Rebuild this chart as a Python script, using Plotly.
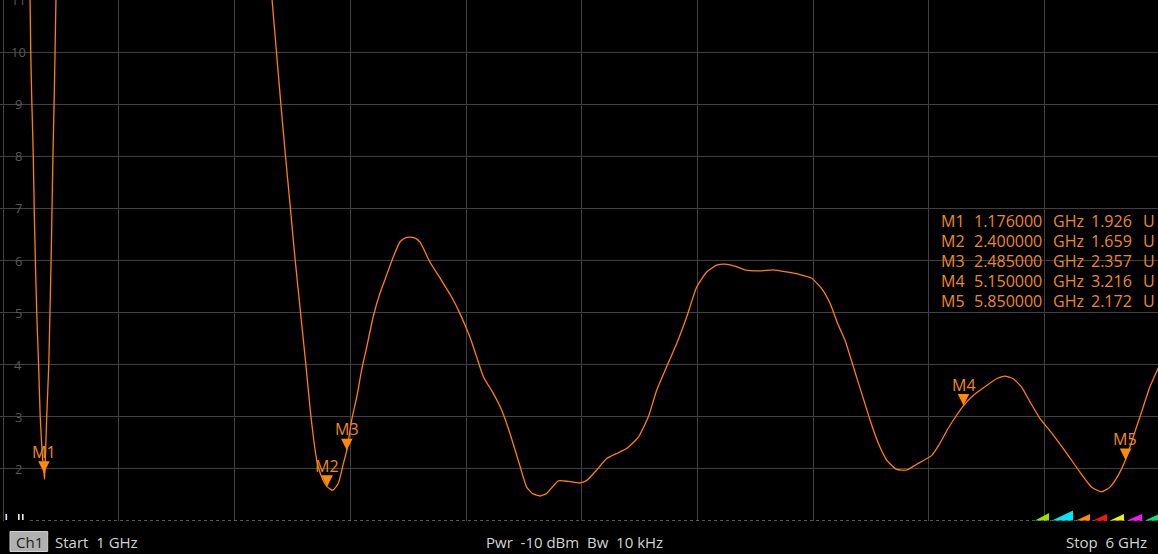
import plotly.graph_objects as go

# ---------------- data ----------------
freq_ghz = [
    1.100, 1.116, 1.119, 1.124, 1.130, 1.134, 1.139, 1.145, 1.153, 1.160, 1.166, 1.171,
    1.176, 1.179, 1.183, 1.188, 1.197, 1.202, 1.207, 1.211, 1.215, 1.220, 1.224, 1.228,
    1.232, 1.236, 1.500, 2.000, 2.124, 2.143,
    2.162, 2.181, 2.200, 2.220, 2.238, 2.262, 2.285, 2.308, 2.330, 2.355, 2.376,
    2.400, 2.424, 2.448, 2.470, 2.485, 2.506, 2.528, 2.549, 2.571, 2.599, 2.628, 2.657,
    2.686, 2.715, 2.740, 2.758, 2.780, 2.800, 2.815, 2.844, 2.888, 2.938, 2.974, 3.017,
    3.046, 3.075, 3.118, 3.154, 3.190, 3.233, 3.262, 3.290, 3.320, 3.349, 3.399, 3.442,
    3.493, 3.522, 3.565, 3.608, 3.658, 3.694, 3.745, 3.788, 3.824, 3.867, 3.911, 3.954,
    3.997, 4.040, 4.083, 4.119, 4.162, 4.205, 4.270, 4.328, 4.386, 4.443, 4.494, 4.537,
    4.573, 4.609, 4.638, 4.674, 4.710, 4.746, 4.782, 4.818, 4.861, 4.905, 4.948, 5.013,
    5.048, 5.084, 5.120, 5.150, 5.192, 5.250, 5.293, 5.329, 5.365, 5.401, 5.437, 5.480,
    5.538, 5.596, 5.653, 5.704, 5.747, 5.783, 5.819, 5.850, 5.884, 5.920, 5.956, 5.991,
    6.000,
]
value_u = [
    13.0, 11.0, 10.0, 9.0, 8.0, 7.0, 6.0, 5.0, 4.0, 3.0, 2.5, 2.15,
    1.926, 1.80, 2.3, 3.0, 4.0, 5.0, 6.0, 7.0, 8.0, 9.0, 10.0, 11.0,
    12.0, 13.0, 20.0, 20.0, 13.0, 12.0,
    11.0, 10.0, 9.0, 8.0, 7.15, 6.0, 5.0, 4.0, 3.0, 2.17, 1.85,
    1.659, 1.59, 1.72, 2.10, 2.357, 2.94, 3.38, 3.90, 4.34, 4.92, 5.37, 5.72,
    6.07, 6.36, 6.44, 6.45, 6.43, 6.36, 6.24, 5.97, 5.66, 5.30, 4.98, 4.53,
    4.15, 3.77, 3.45, 3.13, 2.68, 2.06, 1.65, 1.52, 1.48, 1.53, 1.77, 1.76,
    1.73, 1.78, 1.98, 2.20, 2.31, 2.39, 2.61, 3.00, 3.51, 3.96, 4.41, 4.92,
    5.49, 5.78, 5.91, 5.93, 5.89, 5.82, 5.80, 5.82, 5.78, 5.73, 5.66, 5.46,
    5.18, 4.76, 4.47, 3.96, 3.45, 2.94, 2.49, 2.17, 1.99, 1.98, 2.09, 2.26,
    2.49, 2.78, 3.03, 3.216, 3.41, 3.60, 3.73, 3.78, 3.73, 3.57, 3.29, 2.97,
    2.65, 2.30, 1.94, 1.65, 1.56, 1.65, 1.88, 2.172, 2.62, 3.10, 3.58, 3.93,
    4.02,
]

marker_names = ["M1", "M2", "M3", "M4", "M5"]
marker_freq = [1.176, 2.400, 2.485, 5.150, 5.850]
marker_val = [1.926, 1.659, 2.357, 3.216, 2.172]

y_tick_values = [2, 3, 4, 5, 6, 7, 8, 9, 10, 11]

status_channel = "Ch1"
status_start = "Start\u00a0\u00a01 GHz"
status_mid = "Pwr\u00a0\u00a0-10 dBm\u00a0\u00a0Bw\u00a0\u00a010 kHz"
status_stop = "Stop\u00a0\u00a06 GHz"

# ---------------- layout constants ----------------
W, H = 1158, 554
BOTTOM = 33
PH = H - BOTTOM  # plot height in px
FONT = "Open Sans"
ORANGE = "#ff8000"
TXT_ORANGE = "#ee8a1c"


def px(x):
    return x / W


def py(y):
    return (PH - y) / PH


fig = go.Figure()
fig.add_trace(go.Scatter(
    x=freq_ghz, y=value_u, mode="lines",
    line=dict(color=ORANGE, width=1.3, shape="spline", smoothing=0.5),
    hoverinfo="skip", showlegend=False,
))

annotations = []
# y tick labels drawn inside the plot
for v in y_tick_values:
    annotations.append(dict(
        x=px(18), xref="paper", y=v, yref="y", text=str(v), showarrow=False,
        xanchor="center", yanchor="middle",
        font=dict(family=FONT, size=13, color="#585858"),
    ))

# marker flags
for name, f, v in zip(marker_names, marker_freq, marker_val):
    annotations.append(dict(
        x=f, y=v, xref="x", yref="y", text=name, showarrow=True,
        arrowhead=2, arrowsize=2.3, arrowwidth=1, arrowcolor="#ff8a00",
        ax=0, ay=-21, standoff=0,
        font=dict(family=FONT, size=16, color=TXT_ORANGE),
    ))

# marker table
row_y0 = 220.7
row_dy = 20
for i, (name, f, v) in enumerate(zip(marker_names, marker_freq, marker_val)):
    yy = py(row_y0 + i * row_dy)
    cols = [
        (name, 939, "left"),
        (f"{f:.6f}", 1043.5, "right"),
        ("GHz", 1051, "left"),
        (f"{v:.3f}", 1133.5, "right"),
        ("U", 1141, "left"),
    ]
    for txt, xx, anc in cols:
        annotations.append(dict(
            x=px(xx), y=yy, xref="paper", yref="paper", text=txt, showarrow=False,
            xanchor=anc, yanchor="middle",
            font=dict(family=FONT, size=16, color=TXT_ORANGE),
        ))

# status bar
sb_y = py(541.7)
annotations += [
    dict(x=px(29), y=sb_y, xref="paper", yref="paper", text=status_channel,
         showarrow=False, xanchor="center", yanchor="middle",
         font=dict(family=FONT, size=15, color="#1c1c1c")),
    dict(x=px(53), y=sb_y, xref="paper", yref="paper", text=status_start,
         showarrow=False, xanchor="left", yanchor="middle",
         font=dict(family=FONT, size=15, color="#d4d4d4")),
    dict(x=px(574.5), y=sb_y, xref="paper", yref="paper", text=status_mid,
         showarrow=False, xanchor="center", yanchor="middle",
         font=dict(family=FONT, size=15, color="#d4d4d4")),
    dict(x=px(1148.5), y=sb_y, xref="paper", yref="paper", text=status_stop,
         showarrow=False, xanchor="right", yanchor="middle",
         font=dict(family=FONT, size=15, color="#d4d4d4")),
]

shapes = []
# dotted baseline
shapes.append(dict(type="line", xref="paper", yref="y", x0=px(30), x1=1, y0=1, y1=1,
                   line=dict(color="#a8a8a8", width=1, dash="dot")))
# channel box
shapes.append(dict(type="rect", xref="paper", yref="paper",
                   x0=px(10), x1=px(47.7), y0=py(551.5), y1=py(531.5),
                   fillcolor="#b0b0b0", line=dict(color="#d0d0d0", width=1)))
# small status bars bottom-left
for x0, col in [(5.5, "#dfe6ff"), (18.0, "#f2f0dc"), (22.0, "#e6ecff")]:
    shapes.append(dict(type="rect", xref="paper", yref="paper",
                       x0=px(x0), x1=px(x0 + 1.6), y0=py(520), y1=py(514),
                       fillcolor=col, line=dict(width=0)))
# coloured trace indicator triangles
for x0, x1, top, col in [
    (1035, 1049, 513, "#9ae000"),
    (1052, 1073, 510.5, "#00e6f2"),
    (1076, 1090, 514, "#ff8a00"),
    (1093, 1107, 514, "#ff1010"),
    (1110, 1124, 514, "#f2ee00"),
    (1127, 1142, 514, "#ff10ff"),
    (1145, 1159, 514, "#00e078"),
]:
    shapes.append(dict(
        type="path", xref="paper", yref="paper",
        path=f"M {px(x0)} {py(520.5)} L {px(x1)} {py(520.5)} L {px(x1)} {py(top)} Z",
        fillcolor=col, line=dict(width=0),
    ))

fig.update_layout(
    width=W, height=H,
    margin=dict(l=0, r=0, t=0, b=BOTTOM, pad=0),
    paper_bgcolor="black", plot_bgcolor="black",
    showlegend=False,
    xaxis=dict(range=[0.9862, 5.9905], tick0=1, dtick=0.5, showgrid=True,
               gridcolor="#404040", gridwidth=1, showticklabels=False, ticks="",
               zeroline=False, showline=False, fixedrange=True),
    yaxis=dict(range=[1, 11], tick0=1, dtick=1, showgrid=True,
               gridcolor="#404040", gridwidth=1, showticklabels=False, ticks="",
               zeroline=False, showline=False, fixedrange=True),
    annotations=annotations,
    shapes=shapes,
    font=dict(family=FONT),
)

fig.write_html("out.html", config={"displayModeBar": False},
               post_script="document.body.style.margin='0';document.body.style.background='black';")
